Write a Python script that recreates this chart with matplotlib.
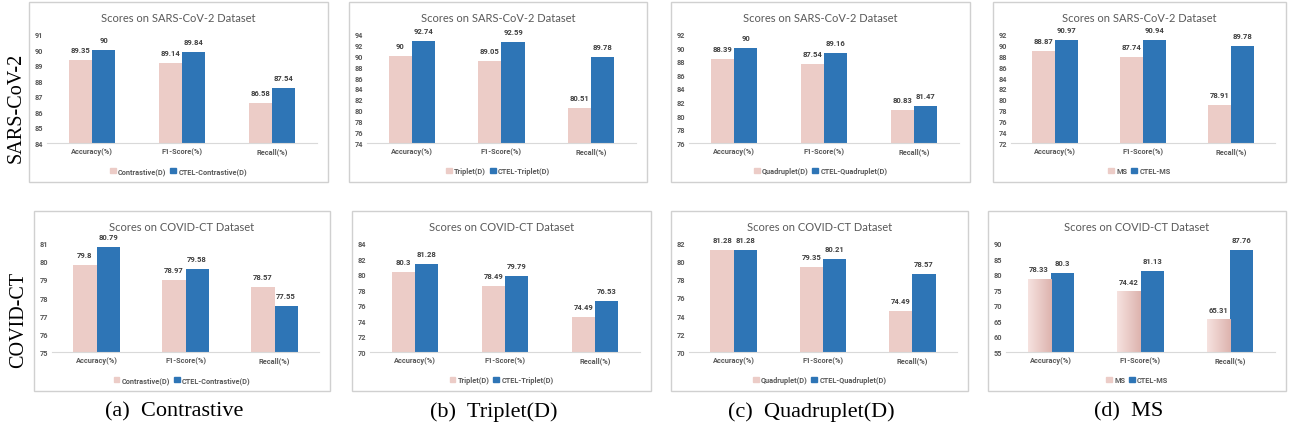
import matplotlib
matplotlib.use("Agg")
import matplotlib.pyplot as plt
from matplotlib.patches import Rectangle, Patch
from matplotlib.colors import LinearSegmentedColormap
import numpy as np

W, H = 1291, 431

categories = ["Accuracy(%)", "F1-Score(%)", "Recall(%)"]
methods = ["Contrastive(D)", "Triplet(D)", "Quadruplet(D)", "MS"]
ctel_names = ["CTEL-Contrastive(D)", "CTEL-Triplet(D)", "CTEL-Quadruplet(D)", "CTEL-MS"]
captions = ["(a)  Contrastive", "(b)  Triplet(D)", "(c)  Quadruplet(D)", "(d)  MS"]
row_names = ["SARS-CoV-2", "COVID-CT"]
titles = ["Scores on SARS-CoV-2 Dataset", "Scores on COVID-CT Dataset"]

# SARS-CoV-2 row
sars_base = [[89.35, 89.14, 86.58], [90, 89.05, 80.51], [88.39, 87.54, 80.83], [88.87, 87.74, 78.91]]
sars_ctel = [[90, 89.84, 87.54], [92.74, 92.59, 89.78], [90, 89.16, 81.47], [90.97, 90.94, 89.78]]
# COVID-CT row
ct_base = [[79.8, 78.97, 78.57], [80.3, 78.49, 74.49], [81.28, 79.35, 74.49], [78.33, 74.42, 65.31]]
ct_ctel = [[80.79, 79.58, 77.55], [81.28, 79.79, 76.53], [81.28, 80.21, 78.57], [80.3, 81.13, 87.76]]

sars_ticks = [np.arange(84, 92, 1), np.arange(74, 96, 2), np.arange(76, 94, 2), np.arange(72, 94, 2)]
ct_ticks = [np.arange(75, 82, 1), np.arange(70, 86, 2), np.arange(70, 84, 2), np.arange(55, 95, 5)]

# panel boxes in pixels: left, top, right
boxes = [
    [(29, 3, 328), (349, 3, 647), (671, 3, 970), (993, 3, 1286)],
    [(34, 212, 330), (352, 212, 651), (671, 212, 968), (988, 212, 1286)],
]
BOX_H = 180

PINK = "#ecccc7"
BLUE = "#2e75b6"
GREY = "#595959"
TITLE_FONT = "Lato"
FONT = "Roboto"
pink_grad = LinearSegmentedColormap.from_list("pg", ["#f6e2df", "#ddb3ae"])

fig = plt.figure(figsize=(W / 100, H / 100), dpi=100)


def fx(x):
    return x / W


def fy(y):
    return 1 - y / H


for r in range(2):
    base_all = sars_base if r == 0 else ct_base
    ctel_all = sars_ctel if r == 0 else ct_ctel
    ticks_all = sars_ticks if r == 0 else ct_ticks
    for c in range(4):
        left, top, right = boxes[r][c]
        fig.add_artist(Rectangle((fx(left), fy(top + BOX_H)), fx(right - left), (BOX_H) / H,
                                 transform=fig.transFigure, fill=False,
                                 edgecolor="#d0d0d0", linewidth=1))
        fig.text(fx((left + right) / 2), fy(top + 16), titles[r], ha="center", va="center",
                 fontsize=8, color=GREY, family=TITLE_FONT)

        ax = fig.add_axes([fx(left + 18), fy(top + 141), fx(right - left - 29), 109 / H])
        x = np.arange(len(categories))
        bw = 0.26
        b1 = ax.bar(x - bw / 2, base_all[c], bw, color=PINK, label=methods[c])
        b2 = ax.bar(x + bw / 2, ctel_all[c], bw, color=BLUE, label=ctel_names[c])
        ticks = ticks_all[c]
        ax.set_ylim(ticks[0], ticks[-1])
        ax.set_yticks(ticks)
        ax.set_xlim(-0.5, 2.5)
        ax.set_xticks(x)
        ax.set_xticklabels(categories)

        # MS on COVID-CT uses gradient-filled pink bars
        if r == 1 and c == 3:
            grad = np.linspace(0, 1, 64).reshape(1, -1)
            for rect in b1:
                rect.set_facecolor("none")
                x0 = rect.get_x()
                ax.imshow(grad, cmap=pink_grad, aspect="auto",
                          extent=(x0, x0 + rect.get_width(), ticks[0], rect.get_height()),
                          zorder=rect.get_zorder())
            ax.set_xlim(-0.5, 2.5)
            ax.set_ylim(ticks[0], ticks[-1])

        for s in ["top", "right", "left"]:
            ax.spines[s].set_visible(False)
        ax.spines["bottom"].set_color("#d9d9d9")
        ax.tick_params(length=0, labelsize=5.3, colors=GREY, pad=3)
        for lab in ax.get_yticklabels() + ax.get_xticklabels():
            lab.set_family(FONT)
            lab.set_fontweight("bold")
        for bars, vals in ((b1, base_all[c]), (b2, ctel_all[c])):
            for rect, v in zip(bars, vals):
                ax.annotate(f"{v:g}", (rect.get_x() + rect.get_width() / 2, v),
                            xytext=(0, 5), textcoords="offset points",
                            ha="center", va="bottom", fontsize=5.5, fontweight="bold",
                            color="#404040", family=FONT)
        handles = [Patch(color=PINK), Patch(color=BLUE)]
        ax.legend(handles, [methods[c], ctel_names[c]], loc="center",
                  bbox_to_anchor=(fx((left + right) / 2), fy(top + 169)),
                  bbox_transform=fig.transFigure, ncol=2, frameon=False,
                  prop={"family": FONT, "size": 5.3, "weight": "bold"},
                  labelcolor=GREY, handlelength=0.8, handleheight=0.8,
                  handletextpad=0.3, columnspacing=0.5, borderpad=0)

# row labels
fig.text(fx(16), fy(108), row_names[0], rotation=90, ha="center", va="center",
         fontsize=14.5, family="Liberation Serif")
fig.text(fx(19), fy(320), row_names[1], rotation=90, ha="center", va="center",
         fontsize=14.5, family="Liberation Serif")

# captions
for c in range(4):
    left, top, right = boxes[1][c]
    fig.text(fx((left + right) / 2 - 8), fy(412), captions[c], ha="center", va="center",
             fontsize=16, family="Liberation Serif")

fig.savefig("out.png", dpi=100)
